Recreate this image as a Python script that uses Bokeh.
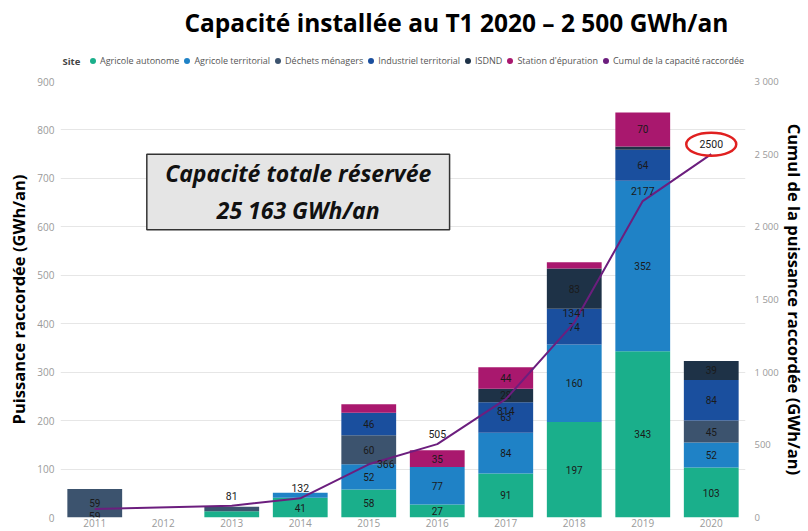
from bokeh.plotting import figure
from bokeh.layouts import column
from bokeh.models import (Range1d, LinearAxis, FixedTicker, Legend, LegendItem,
                          BoxAnnotation, Label, ColumnDataSource)
from bokeh.core.properties import value
from bokeh.embed import file_html
from bokeh.resources import INLINE

# ---------------- data ----------------
years = [2011, 2012, 2013, 2014, 2015, 2016, 2017, 2018, 2019, 2020]
categories = ["Agricole autonome", "Agricole territorial", "Déchets ménagers",
              "Industriel territorial", "ISDND", "Station d'épuration"]
agricole_autonome = [0, 0, 13, 41, 58, 27, 91, 197, 343, 103]
agricole_territorial = [0, 0, 0, 10, 52, 77, 84, 160, 352, 52]
dechets_menagers = [59, 0, 9, 0, 60, 0, 0, 0, 0, 45]
industriel_territorial = [0, 0, 0, 0, 46, 0, 63, 74, 64, 84]
isdnd = [0, 0, 0, 0, 0, 0, 28, 83, 7, 39]
station_epuration = [0, 0, 0, 0, 18, 35, 44, 13, 70, 0]
cumul_years = [2011, 2013, 2014, 2015, 2016, 2017, 2018, 2019, 2020]
cumul = [59, 81, 132, 366, 505, 814, 1341, 2177, 2500]
left_ticks = [0, 100, 200, 300, 400, 500, 600, 700, 800, 900]
right_ticks = [0, 500, 1000, 1500, 2000, 2500, 3000]
right_tick_labels = ["0", "500", "1 000", "1 500", "2 000", "2 500", "3 000"]
series_name = "Cumul de la capacité raccordée"
legend_title = "Site"
title_text = "Capacité installée au T1 2020 \u2013 2 500 GWh/an"
box_lines = ["Capacité totale réservée", "25 163 GWh/an"]
left_label = "Puissance raccordée (GWh/an)"
right_label = "Cumul de la puissance raccordée (GWh/an)"

# ---------------- style ----------------
colors = ["#1AAF8B", "#1F82C6", "#3C536E", "#1A4F9E", "#1E3247", "#A9186E"]
line_color = "#6C1E7E"
W, H_TOP, H_MAIN = 808, 73, 458
BL, BR = 60, 57
FH = 436
font = "Open Sans"

# ---------------- header (title + legend); frame aligned with chart frame ----------------
top = figure(width=W, height=H_TOP, output_backend="svg", toolbar_location=None,
             x_range=Range1d(BL, W - BR), y_range=Range1d(0, H_TOP),
             x_axis_location=None, y_axis_location=None,
             min_border_left=BL, min_border_right=BR,
             min_border_top=0, min_border_bottom=0)
top.grid.visible = False
top.outline_line_color = None
top.add_layout(Label(x=185, y=H_TOP - 22, text=title_text, text_align="left",
                     text_baseline="middle", text_font=font, text_font_size="24.5px",
                     text_font_style="bold", text_color="#000000"))
top.add_layout(Label(x=BL + 2, y=H_TOP - 61, text=legend_title, text_align="left",
                     text_baseline="middle", text_font=font, text_font_size="9.5px",
                     text_font_style="bold", text_color="#444444"))
items = []
for name, c in zip(categories + [series_name], colors + [line_color]):
    r = top.scatter(x=[-100], y=[-100], marker="circle", size=9,
                    fill_color=c, line_color=None)
    items.append(LegendItem(label=name, renderers=[r]))
legend = Legend(items=items, orientation="horizontal", location=(25, 5),
                border_line_color=None, background_fill_alpha=0,
                label_text_font=font, label_text_font_size="9px",
                label_text_color="#555555", glyph_width=15, glyph_height=15,
                label_standoff=0, spacing=0, padding=0, margin=0)
top.add_layout(legend)

# ---------------- main chart ----------------
series = [agricole_autonome, agricole_territorial, dechets_menagers,
          industriel_territorial, isdnd, station_epuration]
keys = ["s%d" % i for i in range(len(series))]
src = ColumnDataSource(dict(x=years, **{k: v for k, v in zip(keys, series)}))

p = figure(width=W, height=H_MAIN, output_backend="svg",
           toolbar_location=None, x_range=Range1d(2010.5, 2020.5),
           y_range=Range1d(0, 900), min_border_left=BL, min_border_right=BR,
           min_border_top=8, min_border_bottom=14)
p.extra_y_ranges = {"cumul": Range1d(0, 3000)}
p.outline_line_color = None

p.vbar_stack(keys, x="x", width=0.8, color=colors, source=src, line_color=None)

# segment labels
lx, ly, lt = [], [], []
for j, yv in enumerate(years):
    base = 0
    for s in series:
        v = s[j]
        if v >= 20:
            lx.append(yv); ly.append(base + v / 2); lt.append(str(v))
        base += v
p.text(x=lx, y=ly, text=lt, text_align="center", text_baseline="middle",
       text_font=value("Roboto"), text_font_size="10px", text_color="#1a1a1a")

# cumulative line
p.line(cumul_years, cumul, y_range_name="cumul", line_color=line_color, line_width=2)
nudges = {2011: (0, -7), 2015: (17, 0), 2017: (0, -12)}
cx_off = [nudges.get(yv, (0, 10))[0] for yv in cumul_years]
cy_off = [-nudges.get(yv, (0, 10))[1] for yv in cumul_years]
p.text(x=cumul_years, y=cumul, text=[str(c) for c in cumul], y_range_name="cumul",
       x_offset=cx_off, y_offset=cy_off, text_align="center", text_baseline="middle",
       text_font=value("Roboto"), text_font_size="10.5px", text_color="#1a1a1a")

# red ellipse around last cumulative label
p.ellipse(x=[cumul_years[-1]], y=[cumul[-1] + 10 * 3000 / FH], width=50, height=23,
          width_units="screen", height_units="screen", y_range_name="cumul",
          fill_alpha=0, line_color="#E02020", line_width=2.5)

# annotation box
p.add_layout(BoxAnnotation(left=2011.76, right=2016.18, bottom=594, top=750,
                           fill_color="#E5E5E5", fill_alpha=1, line_color="#333333",
                           line_width=1.5, line_alpha=1))
p.add_layout(Label(x=2013.97, y=711, text=box_lines[0], text_align="center",
                   text_baseline="middle", text_font=font, text_font_size="23px",
                   text_font_style="bold italic", text_color="#111111"))
p.add_layout(Label(x=2013.97, y=635, text=box_lines[1], text_align="center",
                   text_baseline="middle", text_font=font, text_font_size="23px",
                   text_font_style="bold italic", text_color="#111111"))

# axes
p.xaxis.ticker = FixedTicker(ticks=years)
p.yaxis.ticker = FixedTicker(ticks=left_ticks)
for ax in [p.xaxis[0], p.yaxis[0]]:
    ax.axis_line_color = None
    ax.major_tick_line_color = None
    ax.minor_tick_line_color = None
    ax.major_tick_out = 0
    ax.major_tick_in = 0
    ax.minor_tick_out = 0
    ax.major_label_text_font = font
    ax.major_label_text_font_size = "10px"
    ax.major_label_text_color = "#9a9a9a"
p.xaxis.major_label_standoff = 1
p.yaxis.major_label_standoff = 6
p.yaxis.axis_label = left_label
p.yaxis.axis_label_text_font = font
p.yaxis.axis_label_text_font_size = "16.5px"
p.yaxis.axis_label_text_font_style = "bold"
p.yaxis.axis_label_text_color = "#000000"
p.yaxis.axis_label_standoff = 4

ry = LinearAxis(y_range_name="cumul", ticker=FixedTicker(ticks=right_ticks),
                major_label_overrides={t: l for t, l in zip(right_ticks, right_tick_labels)})
ry.axis_line_color = None
ry.major_tick_line_color = None
ry.minor_tick_line_color = None
ry.major_tick_out = 0
ry.major_tick_in = 0
ry.minor_tick_out = 0
ry.major_label_text_font = font
ry.major_label_text_font_size = "9.5px"
ry.major_label_text_color = "#9a9a9a"
ry.major_label_standoff = 9
ry.axis_label = right_label
ry.axis_label_text_font = font
ry.axis_label_text_font_size = "16.5px"
ry.axis_label_text_font_style = "bold"
ry.axis_label_text_color = "#000000"
ry.axis_label_standoff = 1
p.add_layout(ry, "right")

p.xgrid.visible = False
p.ygrid.ticker = FixedTicker(ticks=left_ticks)
p.ygrid.grid_line_color = "#E6E6E6"

layout = column(top, p, spacing=0)
open("out.html", "w").write(file_html(layout, INLINE))
